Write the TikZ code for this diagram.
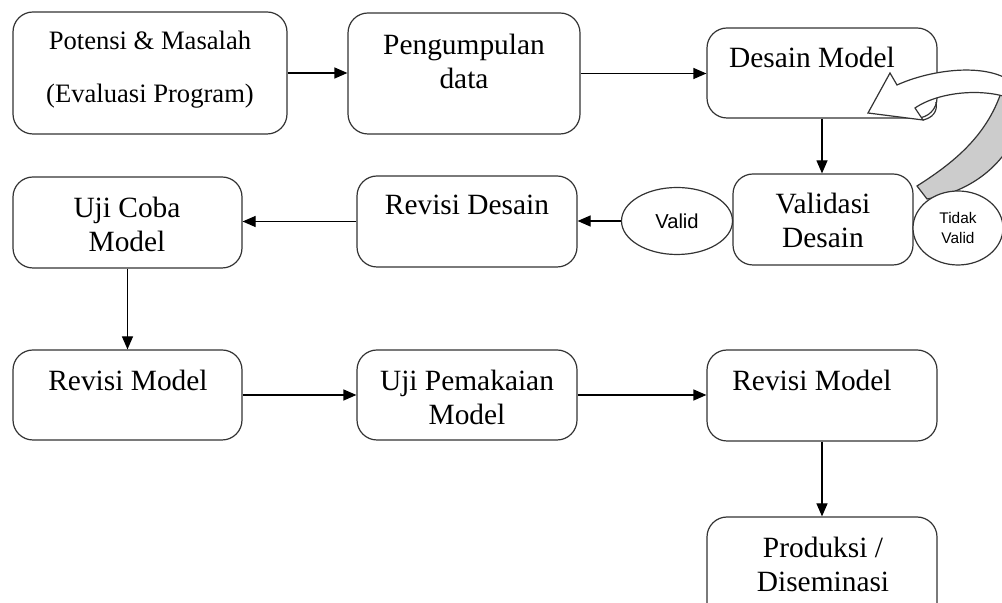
\documentclass[tikz,border=0pt]{standalone}
\usepackage{fontspec}
\setmainfont{Liberation Serif}
\newfontfamily\ovalfont{Liberation Sans}
\usetikzlibrary{arrows.meta, fit, shapes.geometric, positioning}

\begin{document}
\begin{tikzpicture}[x=0.5pt, y=-0.5pt,
    box/.style={draw=black!80, line width=0.6pt, rounded corners=10pt, fill=white, inner sep=0pt},
    txt/.style={inner sep=0pt, align=center, font=\fontsize{14.7}{17}\selectfont},
    oval/.style={ellipse, draw=black!80, line width=0.6pt, fill=white, inner sep=0pt, align=center},
    arr/.style={-{Triangle[length=6.5pt, width=5.5pt]}, line width=0.6pt}]
  \useasboundingbox (0,0) rectangle (1002,603);
  \clip (0,0) rectangle (1002,603);
        \node[box, fit={(13,12) (287,134)}] (potensi) {};
        \node[box, fit={(348,13) (580,134)}] (kumpul) {};
        \node[box, fit={(707,28) (937,118)}] (desain) {};
        \node[box, fit={(733,174) (913,265)}] (validasi) {};
        \node[box, fit={(357,176) (577,267)}] (revdesain) {};
        \node[box, fit={(13,177) (242,268)}] (ujicoba) {};
        \node[box, fit={(13,350) (242,440)}] (revmodela) {};
        \node[box, fit={(357,350) (577,440)}] (ujipakai) {};
        \node[box, fit={(707,350) (937,441)}] (revmodelb) {};
        \node[box, fit={(707,517) (937,650)}] (produksi) {};
        \node[txt, font=\fontsize{13.3}{26.5}\selectfont] (potensit) at (150,70) {Potensi \& Masalah\\(Evaluasi Program)};
        \node[txt] (kumpult) at (464,61) {Pengumpulan\\data};
        \node[txt] (desaint) at (812,57) {Desain Model};
        \node[txt] (validasit) at (823,220) {Validasi\\Desain};
        \node[txt] (revdesaint) at (467,205) {Revisi Desain};
        \node[txt] (ujicobat) at (127,224) {Uji Coba\\Model};
        \node[txt] (revmodelat) at (128,380) {Revisi Model};
        \node[txt] (ujipakait) at (467,397) {Uji Pemakaian\\Model};
        \node[txt] (revmodelbt) at (812,380) {Revisi Model};
        \node[txt] (produksit) at (823,564) {Produksi /\\Diseminasi};
  \fill[gray!40, draw=black!80, line width=0.6pt] (917,186) .. controls (958,160) and (994,130) .. (1006,75) -- (1020,75) -- (1020,125) .. controls (1004,168) and (968,192) .. (927,199) -- cycle;
  \draw[fill=white, draw=black!80, line width=0.6pt] (897,85) .. controls (930,70) and (985,62) .. (1012,82) -- (1012,99) .. controls (985,88) and (940,91) .. (915,108) -- (923,120) -- (868,113) -- (890,73) -- cycle;
  \draw[black!80, line width=0.6pt] (936,102) .. controls (938,112) and (932,118) .. (923,120);
        \node[oval, minimum width=55.5pt, minimum height=33.5pt, font=\ovalfont\fontsize{10.1}{12}\selectfont] (valid) at (677,221) {Valid};
        \node[oval, minimum width=45pt, minimum height=37pt, font=\ovalfont\fontsize{7.7}{10}\selectfont] (tidak) at (958,228) {Tidak\\Valid};
  \draw[arr] (potensi.east) -- (potensi.east -| kumpul.west);
  \draw[arr] (kumpul.east) -- (kumpul.east -| desain.west);
  \draw[arr] (desain.south) -- (validasi.north -| desain.south);
  \draw[arr] (valid.west) -- (valid.west -| revdesain.east);
  \draw[arr] (revdesain.west) -- (revdesain.west -| ujicoba.east);
  \draw[arr] (ujicoba.south) -- (ujicoba.south |- revmodela.north);
  \draw[arr] (revmodela.east) -- (revmodela.east -| ujipakai.west);
  \draw[arr] (ujipakai.east) -- (ujipakai.east -| revmodelb.west);
  \draw[arr] (revmodelb.south) -- (revmodelb.south |- produksi.north);
  \end{tikzpicture}
\end{document}
